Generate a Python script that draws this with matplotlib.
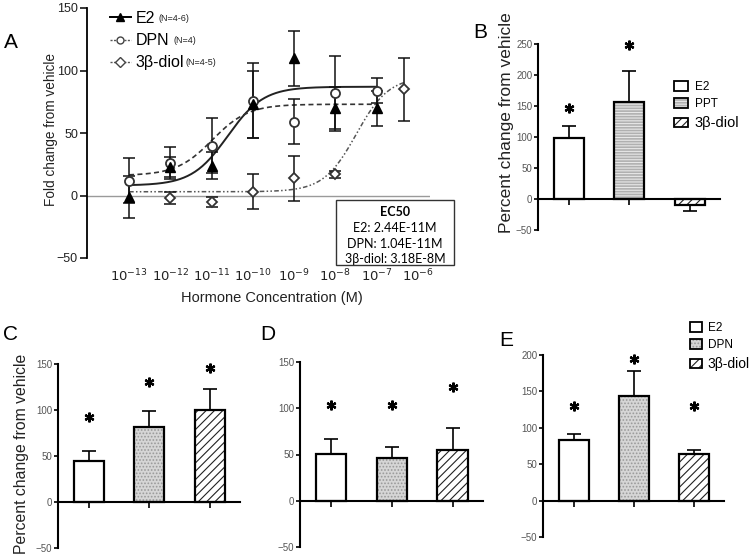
import numpy as np
import matplotlib
matplotlib.use('Agg')
import matplotlib.pyplot as plt
from matplotlib.lines import Line2D
from matplotlib.patches import Patch, Rectangle
from matplotlib.legend_handler import HandlerTuple

plt.rcParams['font.family'] = ['Liberation Sans', 'DejaVu Sans']
plt.rcParams['hatch.linewidth'] = 0.8

W, H = 756, 558

# ---------------- Panel A data ----------------
conc = [1e-13, 1e-12, 1e-11, 1e-10, 1e-9, 1e-8, 1e-7]
e2_mean = [-1, 23, 24, 73, 110, 70, 70]
e2_err = [17, 8, 11, 27, 22, 17, 14]
dpn_mean = [12, 26, 40, 76, 59, 82, 84]
dpn_err = [18, 13, 22, 30, 18, 30, 10]
diol_conc = [1e-12, 1e-11, 1e-10, 1e-9, 1e-8, 4.5e-7]
diol_mean = [-2, -5, 3, 14, 17, 85]
diol_err = [5, 4, 14, 18, 3, 25]

# fitted curve parameters (bottom, top, EC50, hill)
e2_fit = (8, 87, 2.44e-11, 1.0)
dpn_fit = (16, 73, 1.04e-11, 1.0)
diol_fit = (3, 95, 3.18e-8, 1.1)

xtick_exps = [-13, -12, -11, -10, -9, -8, -7, -6]
ec50_lines = ['E2: 2.44E-11M', 'DPN: 1.04E-11M', '3β-diol: 3.18E-8M']

# ---------------- Bar panels data ----------------
b_labels = ['E2', 'PPT', '3β-diol']
b_vals = [98, 157, -9]
b_errs = [20, 49, 11]
b_stars = [147, 248, None]

c_vals = [45, 81, 100]
c_errs = [10, 18, 23]
c_stars = [92, 130, 146]

d_vals = [51, 46, 55]
d_errs = [16, 12, 24]
d_stars = [104, 104, 123]

e_labels = ['E2', 'DPN', '3β-diol']
e_vals = [83, 144, 64]
e_errs = [9, 34, 6]
e_stars = [130, 194, 130]

fig = plt.figure(figsize=(W / 100, H / 100), dpi=100)


def rect(l, t, r, b):
    return [l / W, 1 - b / H, (r - l) / W, (b - t) / H]


def fx(px):
    return px / W


def fy(py):
    return 1 - py / H


def hill(x, p):
    bottom, top, ec50, n = p
    return bottom + (top - bottom) / (1 + (ec50 / x) ** n)


# ---------------- Panel A ----------------
axA = fig.add_axes(rect(87, 8, 430, 258))
axA.set_xscale('log')
axA.set_xlim(10 ** -14.02, 10 ** -5.71)
axA.set_ylim(-50, 150)
axA.axhline(0, color='#9a9a9a', lw=1.0, zorder=0)
for s in ['top', 'right', 'bottom']:
    axA.spines[s].set_visible(False)
axA.spines['left'].set_linewidth(1.3)
axA.set_yticks([-50, 0, 50, 100, 150])
axA.tick_params(axis='y', direction='out', length=5, width=1.1, labelsize=9,
                labelcolor='#222222', pad=1.5)
axA.set_xticks([10.0 ** e for e in xtick_exps])
axA.set_xticklabels(['$10^{%d}$' % e for e in xtick_exps])
axA.minorticks_off()
axA.tick_params(axis='x', length=0, labelsize=9.5, labelcolor='#222222', pad=7)

xc = np.logspace(-13, -7, 200)
xd = np.logspace(-13, np.log10(5e-7), 200)
axA.plot(xc, hill(xc, e2_fit), color='#222222', lw=1.4, zorder=2)
axA.plot(xc, hill(xc, dpn_fit), color='#333333', lw=1.2, dashes=(3, 2), zorder=2)
axA.plot(xd, hill(xd, diol_fit), color='#555555', lw=1.1, dashes=(3, 1.5, 1, 1.5, 1, 1.5), zorder=2)

eb_kw = dict(fmt='none', ecolor='#111111', elinewidth=1.1, capsize=4, capthick=1.1, zorder=3)
axA.errorbar(conc, e2_mean, yerr=e2_err, **eb_kw)
axA.errorbar(conc, dpn_mean, yerr=dpn_err, **eb_kw)
axA.errorbar(diol_conc, diol_mean, yerr=diol_err, **eb_kw)
axA.plot(conc, dpn_mean, 'o', ms=6.5, mfc='white', mec='#333333', mew=1.3, ls='none', zorder=4)
axA.plot(conc, e2_mean, '^', ms=6.5, mfc='black', mec='black', ls='none', zorder=5)
axA.plot(diol_conc, diol_mean, 'D', ms=5.5, mfc='white', mec='#333333', mew=1.3, ls='none', zorder=4)

hA = [Line2D([], [], color='black', lw=1.4, marker='^', ms=6, mfc='black'),
      Line2D([], [], color='#555555', lw=1.0, ls=(0, (1.5, 1)), marker='o', ms=5, mfc='white', mec='#444444'),
      Line2D([], [], color='#555555', lw=1.0, ls=(0, (1.5, 1)), marker='D', ms=5, mfc='white', mec='#444444')]
legA = axA.legend(hA, ['E2', 'DPN', '3β-diol'], loc='upper left', frameon=False,
                  bbox_to_anchor=(fx(110), fy(11)), bbox_transform=fig.transFigure,
                  fontsize=11.5, handlelength=1.3, handletextpad=0.3, labelspacing=0.45,
                  borderpad=0, borderaxespad=0)

fig.text(fx(11), fy(42), 'A', fontsize=15, ha='center', va='center')
fig.text(fx(51), fy(130), 'Fold change from vehicle', rotation=90, fontsize=9.8,
         ha='center', va='center', color='#222222')
fig.text(fx(272), fy(298), 'Hormone Concentration (M)', fontsize=10.5,
         ha='center', va='center', color='#222222')

# EC50 box
fig.patches.append(Rectangle((fx(336), fy(265)), (454 - 336) / W, (265 - 200) / H,
                             transform=fig.transFigure, fill=False, ec='#333333', lw=1.0))
fig.text(fx(395), fy(212), 'EC50', fontsize=9, fontweight='bold', ha='center', va='center',
         family=['Lato', 'DejaVu Sans'])
for i, t in enumerate(ec50_lines):
    fig.text(fx(395), fy(228 + 15.5 * i), t, fontsize=9, ha='center', va='center',
             family=['Lato', 'DejaVu Sans'])

# ---------------- Bar panels ----------------
styles = {
    'E2': dict(fc='white', hc='white', hatch=None),
    'PPT': dict(fc='#b0b0b0', hc='#e8e8e8', hatch='------'),
    'DPN': dict(fc='#d6d6d6', hc='#9a9a9a', hatch='.....'),
    '3β-diol': dict(fc='white', hc='#222222', hatch='////'),
}


def bar_panel(r, ylim, yticks, labels, vals, errs, stars):
    ax = fig.add_axes(r)
    x = np.arange(len(vals))
    for xi, lab, v, e, s in zip(x, labels, vals, errs, stars):
        st = styles[lab]
        ax.bar(xi, v, width=0.5, color=st['fc'], edgecolor=st['hc'], hatch=st['hatch'], lw=0, zorder=2)
        ax.bar(xi, v, width=0.5, fill=False, edgecolor='black', lw=1.6, zorder=3)
        lo, hi = (e, 0) if v < 0 else (0, e)
        ax.errorbar(xi, v, yerr=[[lo], [hi]], fmt='none', ecolor='black', elinewidth=1.2,
                    capsize=5, capthick=1.2, zorder=1)
        if s is not None:
            ax.plot(xi, s, marker=(6, 2, 0), ms=7, mew=1.6, color='black', clip_on=False, zorder=4)
    ax.set_xlim(-0.51, 2.5)
    ax.set_ylim(*ylim)
    ax.set_yticks(yticks)
    for sname in ['top', 'right']:
        ax.spines[sname].set_visible(False)
    ax.spines['bottom'].set_position(('data', 0))
    ax.spines['bottom'].set_linewidth(1.5)
    ax.spines['left'].set_linewidth(1.5)
    ax.set_xticks(x)
    ax.tick_params(axis='x', direction='out', length=4, width=1.2, labelbottom=False)
    ax.tick_params(axis='y', direction='out', length=3, width=1.2, labelsize=7,
                   labelcolor='#555555', pad=1)
    return ax


def legend_handles(labels):
    hs = []
    for lab in labels:
        st = styles[lab]
        hs.append((Patch(facecolor=st['fc'], edgecolor=st['hc'], hatch=st['hatch'], lw=0),
                   Patch(fill=False, edgecolor='black', lw=1.3)))
    return hs


axB = bar_panel(rect(538, 44, 720, 230), (-50, 250), range(-50, 251, 50), b_labels, b_vals, b_errs, b_stars)
legB = axB.legend(legend_handles(b_labels), b_labels, handler_map={tuple: HandlerTuple(ndivide=1)},
                  loc='upper left', bbox_to_anchor=(fx(674), fy(81)), bbox_transform=fig.transFigure,
                  frameon=False, fontsize=8.5, handlelength=1.2, handleheight=0.9,
                  handletextpad=0.55, labelspacing=0.45, borderpad=0, borderaxespad=0)
legB.get_texts()[2].set_fontsize(10.5)
fig.text(fx(480), fy(33), 'B', fontsize=15, ha='center', va='center')
fig.text(fx(507), fy(123), 'Percent change from vehicle', rotation=90, fontsize=12.5,
         ha='center', va='center', color='#222222')

axC = bar_panel(rect(58, 364, 240, 548), (-50, 150), range(-50, 151, 50), e_labels, c_vals, c_errs, c_stars)
fig.text(fx(10), fy(335), 'C', fontsize=15, ha='center', va='center')
fig.text(fx(22), fy(454), 'Percent change from vehicle', rotation=90, fontsize=11.3,
         ha='center', va='center', color='#222222')

axD = bar_panel(rect(300, 362, 483, 547), (-50, 150), range(-50, 151, 50), e_labels, d_vals, d_errs, d_stars)
fig.text(fx(268), fy(335), 'D', fontsize=15, ha='center', va='center')

axE = bar_panel(rect(543, 355, 724, 537), (-50, 200), range(-50, 201, 50), e_labels, e_vals, e_errs, e_stars)
legE = axE.legend(legend_handles(e_labels), e_labels, handler_map={tuple: HandlerTuple(ndivide=1)},
                  loc='upper left', bbox_to_anchor=(fx(690), fy(322)), bbox_transform=fig.transFigure,
                  frameon=False, fontsize=8.5, handlelength=1.0, handleheight=0.9,
                  handletextpad=0.5, labelspacing=0.45, borderpad=0, borderaxespad=0)
legE.get_texts()[2].set_fontsize(10)
fig.text(fx(506), fy(340), 'E', fontsize=15, ha='center', va='center')

# small N annotations next to panel A legend labels
fig.canvas.draw()
rend = fig.canvas.get_renderer()
n_labels = ['(N=4-6)', '(N=4)', '(N=4-5)']
gaps = [4, 4, 1]
for t, nl, g in zip(legA.get_texts(), n_labels, gaps):
    bb = t.get_window_extent(rend)
    fig.text((bb.x1 + g) / W, (bb.y0 + 3) / H, nl, fontsize=6.5, ha='left', va='bottom',
             color='#222222')

fig.savefig('out.png', dpi=100)
